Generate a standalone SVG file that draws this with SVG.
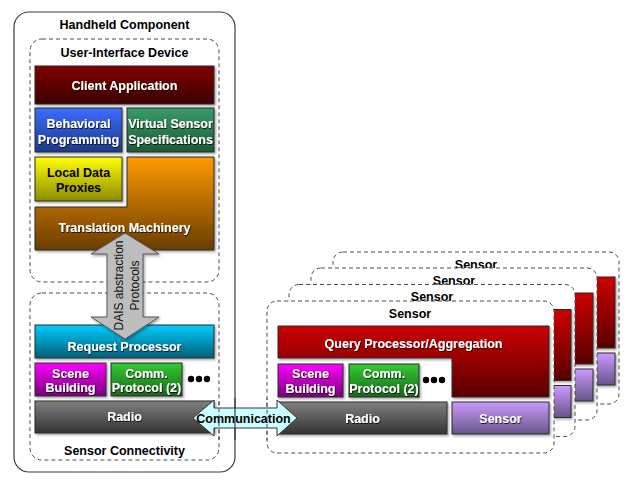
<svg xmlns="http://www.w3.org/2000/svg" xmlns:xlink="http://www.w3.org/1999/xlink" width="636" height="486" viewBox="0 0 636 486">
<defs>
<style>
.t{font-family:"Liberation Sans",Arial,Helvetica,sans-serif;font-weight:bold;font-size:12.5px;text-anchor:middle}
.w{fill:#fff;filter:url(#ts)}
.k{fill:#000}
.box{stroke:#2b2b2b;stroke-width:1;filter:url(#sh)}
.dash{fill:none;stroke:#4a4a4a;stroke-width:1;stroke-dasharray:4 3}
.dot{fill:#000}
</style>
<filter id="sh" x="-10%" y="-10%" width="130%" height="140%"><feDropShadow dx="1.4" dy="1.6" stdDeviation="1" flood-color="#000" flood-opacity="0.35"/></filter>
<filter id="ts" x="-10%" y="-30%" width="120%" height="160%"><feDropShadow dx="0.6" dy="0.9" stdDeviation="0.6" flood-color="#000" flood-opacity="0.95"/></filter>
<linearGradient id="gClient" x1="0" y1="0" x2="0" y2="1"><stop offset="0" stop-color="#800000"/><stop offset="1" stop-color="#3c0000"/></linearGradient>
<linearGradient id="gBlue" x1="0" y1="0" x2="0" y2="1"><stop offset="0" stop-color="#3d6cff"/><stop offset="1" stop-color="#1b3a8a"/></linearGradient>
<linearGradient id="gGreenD" x1="0" y1="0" x2="0" y2="1"><stop offset="0" stop-color="#3a9a68"/><stop offset="1" stop-color="#1d5a38"/></linearGradient>
<linearGradient id="gYellow" x1="0" y1="0" x2="0" y2="1"><stop offset="0" stop-color="#ffff00"/><stop offset="1" stop-color="#8c8c00"/></linearGradient>
<linearGradient id="gOrange" x1="0" y1="0" x2="0" y2="1"><stop offset="0" stop-color="#ff9a00"/><stop offset="1" stop-color="#6a3c00"/></linearGradient>
<linearGradient id="gCyan" x1="0" y1="0" x2="0" y2="1"><stop offset="0" stop-color="#00ccff"/><stop offset="1" stop-color="#005f78"/></linearGradient>
<linearGradient id="gMag" x1="0" y1="0" x2="0" y2="1"><stop offset="0" stop-color="#ff00ff"/><stop offset="1" stop-color="#780078"/></linearGradient>
<linearGradient id="gGreen" x1="0" y1="0" x2="0" y2="1"><stop offset="0" stop-color="#33cc33"/><stop offset="1" stop-color="#196619"/></linearGradient>
<linearGradient id="gGray" x1="0" y1="0" x2="0" y2="1"><stop offset="0" stop-color="#808080"/><stop offset="1" stop-color="#333333"/></linearGradient>
<linearGradient id="gRed" x1="0" y1="0" x2="0" y2="1"><stop offset="0" stop-color="#cc0000"/><stop offset="1" stop-color="#580000"/></linearGradient>
<linearGradient id="gPurple" x1="0" y1="0" x2="0" y2="1"><stop offset="0" stop-color="#cc99ff"/><stop offset="1" stop-color="#665588"/></linearGradient>
<clipPath id="commClip"><rect x="188" y="398" width="112" height="42"/></clipPath>
</defs>
<rect width="636" height="486" fill="#fff"/>

<!-- Back sensor boxes -->
<g id="sensor-4">
<rect x="333" y="252" width="286" height="152" rx="10" fill="#fff" stroke="#4a4a4a" stroke-dasharray="4 3"/>
<text class="t k" x="476" y="268.5">Sensor</text>
<rect class="box" x="518" y="277" width="97" height="71" fill="url(#gRed)"/>
<rect class="box" x="518" y="353" width="97" height="32" fill="url(#gPurple)"/>
</g>
<g id="sensor-3">
<rect x="311" y="268" width="286" height="152" rx="10" fill="#fff" stroke="#4a4a4a" stroke-dasharray="4 3"/>
<text class="t k" x="454" y="284.5">Sensor</text>
<rect class="box" x="496" y="293" width="97" height="71" fill="url(#gRed)"/>
<rect class="box" x="496" y="369" width="97" height="32" fill="url(#gPurple)"/>
</g>
<g id="sensor-2">
<rect x="289" y="284.5" width="286" height="152" rx="10" fill="#fff" stroke="#4a4a4a" stroke-dasharray="4 3"/>
<text class="t k" x="432" y="301">Sensor</text>
<rect class="box" x="474" y="309.5" width="97" height="71" fill="url(#gRed)"/>
<rect class="box" x="474" y="385.5" width="97" height="32" fill="url(#gPurple)"/>
</g>

<!-- Front sensor box -->
<g id="sensor-1">
<rect x="267" y="301" width="287" height="152" rx="10" fill="#fff"/>
<rect id="s1-outline" class="dash" x="267" y="301" width="287" height="152" rx="10"/>
<text class="t k" x="410" y="317.5">Sensor</text>
</g>
<g id="query-processor">
<path class="box" d="M278,326 H549 V397 H452 V358 H278 Z" fill="url(#gRed)"/>
<text class="t w" x="413.5" y="347.5">Query Processor/Aggregation</text>
</g>
<g id="s-scene-building">
<rect class="box" x="278" y="364" width="65" height="33" fill="url(#gMag)"/>
<text class="t w" x="310.5" y="378">Scene</text>
<text class="t w" x="310.5" y="392.5">Building</text>
</g>
<g id="s-comm-protocol">
<rect class="box" x="349" y="364" width="70" height="33" fill="url(#gGreen)"/>
<text class="t w" x="384" y="378">Comm.</text>
<text class="t w" x="384" y="392.5">Protocol (2)</text>
</g>
<g id="s-more">
<circle class="dot" cx="426" cy="380" r="3.2"/><circle class="dot" cx="434" cy="380" r="3.2"/><circle class="dot" cx="442" cy="380" r="3.2"/>
</g>
<g id="s-radio">
<rect class="box" x="278" y="402" width="169" height="32" fill="url(#gGray)"/>
<text class="t w" x="362.5" y="422.5">Radio</text>
</g>
<g id="s-sensor">
<rect class="box" x="452" y="402" width="97" height="32" fill="url(#gPurple)"/>
<text class="t w" x="500.5" y="422.5">Sensor</text>
</g>

<!-- Handheld component -->
<g id="handheld">
<rect id="hh-outline" x="14" y="12" width="221" height="460" rx="15" fill="none" stroke="#3a3a3a" stroke-width="1.2"/>
<text class="t k" x="124.5" y="29">Handheld Component</text>
</g>
<g id="ui-device">
<rect class="dash" x="30" y="39" width="189" height="243" rx="12"/>
<text class="t k" x="124.5" y="57">User-Interface Device</text>
</g>
<g id="client-app">
<rect class="box" x="35" y="66" width="179" height="38" fill="url(#gClient)"/>
<text class="t w" x="124.5" y="89.5">Client Application</text>
</g>
<g id="behavioral">
<rect class="box" x="35" y="108" width="87" height="44" fill="url(#gBlue)"/>
<text class="t w" x="78.5" y="128">Behavioral</text>
<text class="t w" x="78.5" y="143.5">Programming</text>
</g>
<g id="virtual-sensor">
<rect class="box" x="127" y="108" width="87" height="44" fill="url(#gGreenD)"/>
<text class="t w" x="170.5" y="128">Virtual Sensor</text>
<text class="t w" x="170.5" y="143.5">Specifications</text>
</g>
<g id="local-data">
<rect class="box" x="35" y="157" width="87" height="44" fill="url(#gYellow)"/>
<text class="t k" x="78.5" y="177">Local Data</text>
<text class="t k" x="78.5" y="192">Proxies</text>
</g>
<g id="translation">
<path class="box" d="M35,207 H127 V157 H214 V250 H35 Z" fill="url(#gOrange)"/>
<text class="t w" x="124.5" y="232">Translation Machinery</text>
</g>
<g id="sensor-connectivity">
<rect id="sc-outline" class="dash" x="30" y="293" width="189" height="167" rx="12"/>
<text class="t k" x="124.5" y="455">Sensor Connectivity</text>
</g>
<g id="request-processor">
<rect class="box" x="35" y="325" width="179" height="33" fill="url(#gCyan)"/>
<text class="t w" x="124.5" y="351">Request Processor</text>
</g>
<g id="scene-building">
<rect class="box" x="35" y="363" width="71" height="33" fill="url(#gMag)"/>
<text class="t w" x="70.5" y="377.5">Scene</text>
<text class="t w" x="70.5" y="392">Building</text>
</g>
<g id="comm-protocol">
<rect class="box" x="111" y="363" width="71" height="33" fill="url(#gGreen)"/>
<text class="t w" x="146.5" y="377.5">Comm.</text>
<text class="t w" x="146.5" y="392">Protocol (2)</text>
</g>
<g id="more">
<circle class="dot" cx="191" cy="379" r="3.2"/><circle class="dot" cx="199" cy="379" r="3.2"/><circle class="dot" cx="207" cy="379" r="3.2"/>
</g>
<g id="radio">
<rect class="box" x="35" y="401" width="179" height="32" fill="url(#gGray)"/>
<text class="t w" x="124.5" y="421">Radio</text>
</g>

<!-- Connectors -->
<g id="connectors">
<g id="dais-arrow">
<path d="M125,233 L159,254 H143 V317 H159 L125,339 L91,317 H107 V254 H91 Z" fill="#bdbdbd" stroke="#555" stroke-width="1" filter="url(#sh)"/>
<g transform="translate(122.5,285.5) rotate(-90)" font-family="Liberation Sans, Arial, sans-serif" font-size="12" fill="#111" text-anchor="middle">
<text x="0" y="0">DAIS abstraction</text>
<text x="0" y="16">Protocols</text>
</g>
</g>
<g id="communication-arrow">
<path d="M193,418 L214,400 V408 H277 V400 L297,418 L277,436 V428 H214 V436 Z" fill="#ccffff" stroke="#333" stroke-width="1"/>
<text class="t k" x="243.5" y="422.5">Communication</text>
</g>
</g>
<g id="border-overlay" clip-path="url(#commClip)">
<use xlink:href="#hh-outline"/>
<use xlink:href="#sc-outline"/>
<use xlink:href="#s1-outline"/>
</g>
</svg>
